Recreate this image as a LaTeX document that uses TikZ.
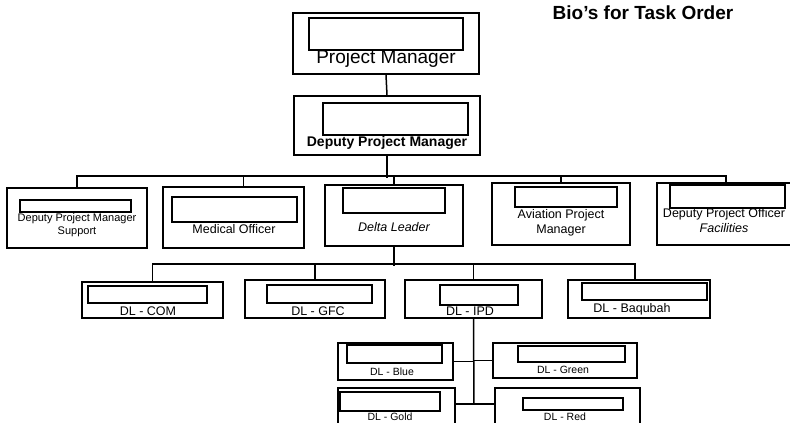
\documentclass[tikz,border=0pt]{standalone}
\usepackage{fontspec}
\setmainfont{Liberation Sans}
\usetikzlibrary{positioning}

\begin{document}
\begin{tikzpicture}[x=1pt,y=-1pt,
  frame/.style 2 args={draw,line width=1.7pt,minimum width=#1pt,
              minimum height=#2pt,inner sep=0pt},
  photo/.style 2 args={frame={#1}{#2},fill=white},
  lbl/.style={inner sep=0pt,align=center,font=\fontsize{12.5}{15}\selectfont},
  small/.style={inner sep=0pt,font=\fontsize{10.5}{11}\selectfont},
  link/.style={line width=1.5pt}]
\useasboundingbox (0,0) rectangle (790,423);
\node[font=\fontsize{19}{20}\selectfont\bfseries] (title) at (643,13) {Bio’s for Task Order};
% top of the chart
\node[frame={186}{61}] (pm) at (386,43.5) {};
\node[photo={154}{32}] (pmphoto) at (386,34) {};
\node[inner sep=0pt,font=\fontsize{19}{20}\selectfont] (pmtext) at (386,59) {Project Manager};
\node[frame={186}{59}] (dpm) at (387,125.5) {};
\node[photo={145}{32}] (dpmphoto) at (395.5,119) {};
\node[inner sep=0pt,font=\fontsize{14}{16}\selectfont\bfseries] (dpmtext) at (387,143) {Deputy Project Manager};
\draw[link] (pm.south) -- (dpm.north);
% second row
\node[frame={140}{60}] (dpms) at (77,218) {};
\node[photo={111}{12}] (dpmsphoto) at (75.5,206) {};
\node[lbl,font=\fontsize{11}{13}\selectfont] (dpmstext) at (77,225.5) {Deputy Project Manager\\Support};
\node[frame={141}{61}] (med) at (233.5,217.5) {};
\node[photo={125}{25}] (medphoto) at (234.5,209.5) {};
\node[lbl] (medtext) at (234,229) {Medical Officer};
\node[frame={138}{61}] (delta) at (394,215.5) {};
\node[photo={102}{25}] (deltaphoto) at (394,200.5) {};
\node[lbl,font=\fontsize{12.5}{15}\selectfont\itshape] (deltatext) at (394,227) {Delta Leader};
\node[frame={138}{62}] (avi) at (561,214) {};
\node[photo={102}{20}] (aviphoto) at (566,197) {};
\node[lbl] (avitext) at (561,222.5) {Aviation Project\\Manager};
\node[frame={138}{62}] (dpof) at (726,214) {};
\node[photo={115}{23}] (dpofphoto) at (727.5,196.5) {};
\node[lbl] (dpoftext) at (724,220.5) {Deputy Project Officer\\\textit{Facilities}};
\draw[link] (dpm.south) -- ++(0,22);
\draw[link] (dpms.north) -- ++(0,-11) -| (dpof.north);
\draw[link] ([xshift=10pt]med.north) -- ++(0,-10);
\draw[link] (delta.north) -- ++(0,-8);
\draw[link] (avi.north) -- ++(0,-6);
% third row
\node[frame={141}{36}] (com) at (152.5,300) {};
\node[photo={119}{17}] (comphoto) at (147.5,294.5) {};
\node[lbl] (comtext) at (148,311) {DL - COM};
\node[frame={140}{38}] (gfc) at (315,299) {};
\node[photo={105}{18}] (gfcphoto) at (319.5,294) {};
\node[lbl] (gfctext) at (318,311) {DL - GFC};
\node[frame={137}{38}] (ipd) at (473.5,299) {};
\node[photo={78}{20}] (ipdphoto) at (479,295) {};
\node[lbl] (ipdtext) at (470,311) {DL - IPD};
\node[frame={142}{38}] (baq) at (639,299) {};
\node[photo={125}{17}] (baqphoto) at (644.5,291.5) {};
\node[lbl] (baqtext) at (632,309) {DL - Baqubah};
\draw[link] (delta.south) -- ++(0,19);
\draw[link] (com.north) -- ++(0,-17) -| ([xshift=-4pt]baq.north);
\draw[link] (gfc.north) -- ++(0,-15);
\draw[link] (ipd.north) -- ++(0,-15);
% fourth row
\coordinate (spine) at (474,404);
\node[frame={115}{37}] (blue) at (395.5,361.5) {};
\node[photo={95}{18}] (bluephoto) at (394.5,354) {};
\node[small] (bluetext) at (392,372) {DL - Blue};
\node[frame={144}{35}] (green) at (565,360.5) {};
\node[photo={107}{16}] (greenphoto) at (571.5,354) {};
\node[small] (greentext) at (563,370) {DL - Green};
\node[frame={117}{42}] (gold) at (396.5,409) {};
\node[photo={100}{19}] (goldphoto) at (390,401.5) {};
\node[small] (goldtext) at (390,416.5) {DL - Gold};
\node[frame={145}{42}] (red) at (567.5,409) {};
\node[photo={100}{12}] (redphoto) at (573,404) {};
\node[small] (redtext) at (565,416.5) {DL - Red};
\draw[link] (ipd.south) -- (spine);
\draw[link] (blue.east) -- (blue.east -| spine);
\draw[link] (green.west) -- (green.west -| spine);
\draw[link] ([yshift=5pt]gold.east) -- ([yshift=5pt]gold.east -| spine);
\draw[link] ([yshift=5pt]red.west) -- (spine);
\end{tikzpicture}
\end{document}
